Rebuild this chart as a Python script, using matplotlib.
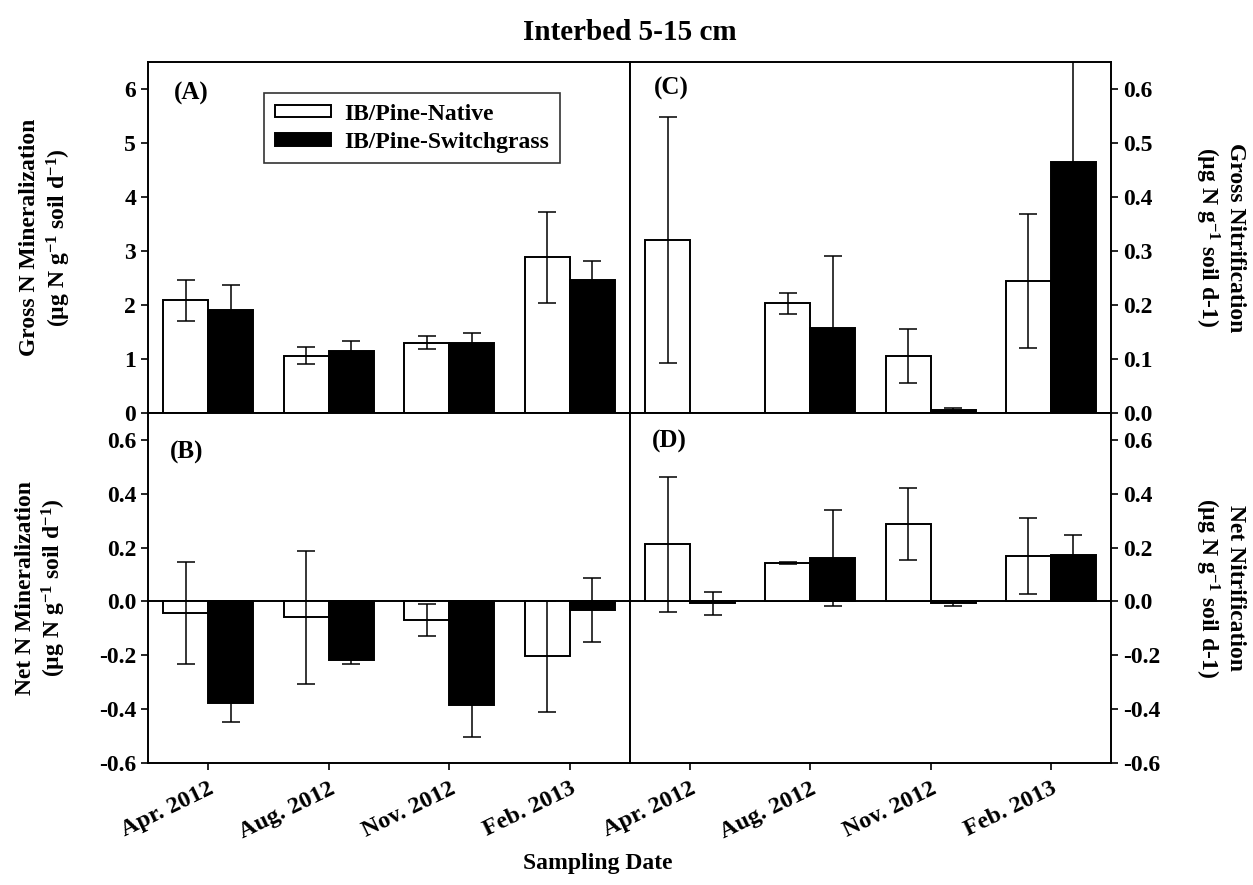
import numpy as np
import matplotlib.pyplot as plt

plt.rcParams['font.family'] = ['Liberation Serif', 'DejaVu Serif']
plt.rcParams['font.weight'] = 'bold'
plt.rcParams['mathtext.fontset'] = 'custom'
plt.rcParams['mathtext.rm'] = 'Liberation Serif:bold'
plt.rcParams['mathtext.it'] = 'Liberation Serif:bold'
plt.rcParams['mathtext.bf'] = 'Liberation Serif:bold'
plt.rcParams['mathtext.default'] = 'rm'

dates = ['Apr. 2012', 'Aug. 2012', 'Nov. 2012', 'Feb. 2013']
series = ['IB/Pine-Native', 'IB/Pine-Switchgrass']

# (A) gross N mineralization
gross_min_native = [2.09, 1.06, 1.30, 2.88]
gross_min_native_se = [0.38, 0.16, 0.12, 0.84]
gross_min_switch = [1.91, 1.14, 1.30, 2.47]
gross_min_switch_se = [0.46, 0.19, 0.19, 0.34]

# (B) net N mineralization
net_min_native = [-0.043, -0.059, -0.068, -0.204]
net_min_native_se = [0.19, 0.248, 0.06, 0.205]
net_min_switch = [-0.376, -0.217, -0.386, -0.031]
net_min_switch_se = [0.073, 0.017, 0.117, 0.12]

# (C) gross nitrification (no switchgrass value in Apr. 2012)
gross_nit_native = [0.321, 0.203, 0.105, 0.245]
gross_nit_native_se = [0.228, 0.019, 0.05, 0.124]
gross_nit_switch = [np.nan, 0.158, 0.006, 0.465]
gross_nit_switch_se = [np.nan, 0.133, 0.004, 0.25]

# (D) net nitrification
net_nit_native = [0.212, 0.142, 0.288, 0.168]
net_nit_native_se = [0.25, 0.003, 0.135, 0.142]
net_nit_switch = [-0.007, 0.162, -0.007, 0.174]
net_nit_switch_se = [0.043, 0.177, 0.01, 0.074]

W, H = 1253, 885
fig = plt.figure(figsize=(W / 100, H / 100), dpi=100)


def px_axes(x0, y0, x1, y1):
    return fig.add_axes([x0 / W, 1 - y1 / H, (x1 - x0) / W, (y1 - y0) / H])


axA = px_axes(148, 62, 630, 413)
axB = px_axes(148, 413, 630, 763)
axC = px_axes(630, 62, 1111, 413)
axD = px_axes(630, 413, 1111, 763)

x = np.arange(len(dates)) + 0.5
bw = 0.375
err_kw = dict(ecolor='black', elinewidth=1.1, capsize=6.5, capthick=1.1)


def draw(ax, nat, nat_se, sw, sw_se, label, lpos):
    ax.bar(x - bw / 2, nat, bw, color='white', edgecolor='black', linewidth=1.4,
           label=series[0], zorder=2)
    ax.bar(x + bw / 2, sw, bw, color='black', edgecolor='black', linewidth=1.4,
           label=series[1], zorder=2)
    ax.errorbar(x - bw / 2, nat, yerr=nat_se, fmt='none', zorder=3, **err_kw)
    ax.errorbar(x + bw / 2, sw, yerr=sw_se, fmt='none', zorder=1.5, **err_kw)
    ax.set_xlim(0, 4)
    ax.set_xticks(x)
    ax.text(lpos[0], lpos[1], label, transform=ax.transAxes, fontsize=18,
            fontweight='bold', va='center', ha='left')
    for s in ax.spines.values():
        s.set_linewidth(1.4)
    ax.tick_params(direction='out', width=1.2, length=5, labelsize=17)


draw(axA, gross_min_native, gross_min_native_se, gross_min_switch, gross_min_switch_se,
     '(A)', (0.053, 0.91))
draw(axB, net_min_native, net_min_native_se, net_min_switch, net_min_switch_se,
     '(B)', (0.045, 0.886))
draw(axC, gross_nit_native, gross_nit_native_se, gross_nit_switch, gross_nit_switch_se,
     '(C)', (0.05, 0.925))
draw(axD, net_nit_native, net_nit_native_se, net_nit_switch, net_nit_switch_se,
     '(D)', (0.046, 0.92))

axA.set_ylim(0, 6.5)
axA.set_yticks(range(0, 7))
axC.set_ylim(0, 0.65)
axC.set_yticks(np.arange(0, 0.61, 0.1))
axC.set_yticklabels([f'{v:.1f}' for v in np.arange(0, 0.61, 0.1)])
for ax in (axB, axD):
    ax.set_ylim(-0.6, 0.7)
    ax.set_yticks(np.arange(-0.6, 0.61, 0.2))
    ax.set_yticklabels([f'{v:.1f}' for v in np.arange(-0.6, 0.61, 0.2)])
    ax.axhline(0, color='black', linewidth=1.4, zorder=1)

for ax in (axC, axD):
    ax.yaxis.tick_right()
    ax.yaxis.set_label_position('right')

for ax in (axA, axC):
    ax.set_xticklabels([])
for ax in (axB, axD):
    ax.set_xticklabels(dates, rotation=26, ha='right', va='top',
                       rotation_mode='anchor', fontsize=17.5)
    ax.tick_params(axis='x', pad=6)

lab_kw = dict(fontsize=17, fontweight='bold', linespacing=1.2)
axA.set_ylabel('Gross N Mineralization\n(µg N g$^{-1}$ soil d$^{-1}$)', **lab_kw)
axB.set_ylabel('Net N Mineralization\n(µg N g$^{-1}$ soil d$^{-1}$)', **lab_kw)
axC.set_ylabel('Gross Nitrification\n(µg N g$^{-1}$ soil d-1)', rotation=270, **lab_kw)
axD.set_ylabel('Net Nitrification\n(µg N g$^{-1}$ soil d-1)', rotation=270, **lab_kw)
axA.yaxis.set_label_coords(-0.156, 0.5)
axB.yaxis.set_label_coords(-0.166, 0.5)
axC.yaxis.set_label_coords(1.281, 0.5)
axD.yaxis.set_label_coords(1.281, 0.5)

leg = axA.legend(loc='upper left', bbox_to_anchor=(0.241, 0.912), fontsize=17,
                 frameon=True, fancybox=False, edgecolor='black',
                 handlelength=2.4, handleheight=0.45, borderpad=0.45,
                 labelspacing=0.3, handletextpad=0.55, borderaxespad=0)
leg.get_frame().set_linewidth(1.2)

fig.text(630 / W, 1 - 32 / H, 'Interbed 5-15 cm', ha='center', va='center',
         fontsize=21, fontweight='bold')
fig.text(598 / W, 1 - 864 / H, 'Sampling Date', ha='center', va='center',
         fontsize=17, fontweight='bold')

fig.savefig('out.png', dpi=100)
